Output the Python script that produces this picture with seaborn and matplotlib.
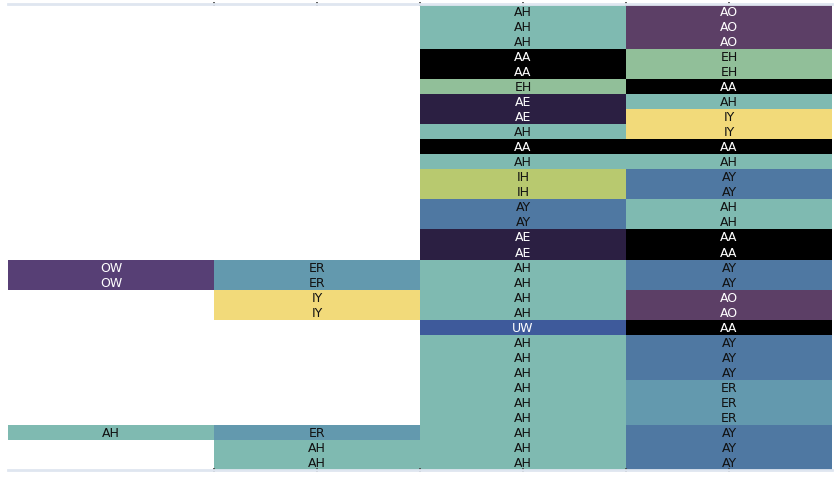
import numpy as np
import pandas as pd
import seaborn as sns
import matplotlib.pyplot as plt
from matplotlib.colors import ListedColormap

# phoneme per row for each of the four columns (None = empty cell)
col1 = [None] * 17 + ['OW', 'OW'] + [None] * 9 + ['AH', None, None]
col2 = [None] * 17 + ['ER', 'ER', 'IY', 'IY'] + [None] * 7 + ['ER', 'AH', 'AH']
col3 = ['AH', 'AH', 'AH', 'AA', 'AA', 'EH', 'AE', 'AE', 'AH', 'AA', 'AH',
        'IH', 'IH', 'AY', 'AY', 'AE', 'AE', 'AH', 'AH', 'AH', 'AH', 'UW',
        'AH', 'AH', 'AH', 'AH', 'AH', 'AH', 'AH', 'AH', 'AH']
col4 = ['AO', 'AO', 'AO', 'EH', 'EH', 'AA', 'AH', 'IY', 'IY', 'AA', 'AH',
        'AY', 'AY', 'AH', 'AH', 'AA', 'AA', 'AY', 'AY', 'AO', 'AO', 'AA',
        'AY', 'AY', 'AY', 'ER', 'ER', 'ER', 'AY', 'AY', 'AY']

phonemes = ['AA', 'AE', 'AO', 'OW', 'UW', 'AY', 'ER', 'AH', 'EH', 'IH', 'IY']
phoneme_colors = ['#000000', '#2b1f42', '#5c3f66', '#573f75', '#3e5a9b', '#4f78a2',
                  '#6399ae', '#7fbab1', '#91bf99', '#b8c96f', '#f2da7a']
light_text = ['AA', 'AE', 'AO', 'OW', 'UW']

labels = pd.DataFrame({'c1': col1, 'c2': col2, 'c3': col3, 'c4': col4})
codes = labels.apply(lambda s: s.map(lambda p: phonemes.index(p) if p else np.nan))
annot = labels.fillna('')

fig = plt.figure(figsize=(8.37, 4.85), dpi=100)
ax = fig.add_axes([8 / 837, 14 / 485, 824 / 837, 466 / 485])

sns.heatmap(codes, mask=codes.isna(), cmap=ListedColormap(phoneme_colors),
            vmin=-0.5, vmax=len(phonemes) - 0.5, annot=annot, fmt='',
            cbar=False, ax=ax, annot_kws={'fontsize': 9, 'family': 'DejaVu Sans'})

for t in ax.texts:
    t.set_color('white' if t.get_text() in light_text else '#111111')

ax.set_xlabel('')
ax.set_ylabel('')
ax.set_yticks([])
ax.set_xticks([1, 1.5, 2, 2.5, 3, 3.5])
ax.set_xticklabels([])
ax.set_xticks([0.5], minor=True)
ax.tick_params(axis='x', which='both', top=True, bottom=True, direction='inout',
               length=3, width=1.2, color='#444444')
ax.tick_params(axis='x', which='minor', color='white')
for side in ['top', 'bottom']:
    ax.spines[side].set_visible(True)
    ax.spines[side].set_color('#dfe6f0')
    ax.spines[side].set_linewidth(2)
for side in ['left', 'right']:
    ax.spines[side].set_visible(False)

plt.savefig('out.png', dpi=100)
